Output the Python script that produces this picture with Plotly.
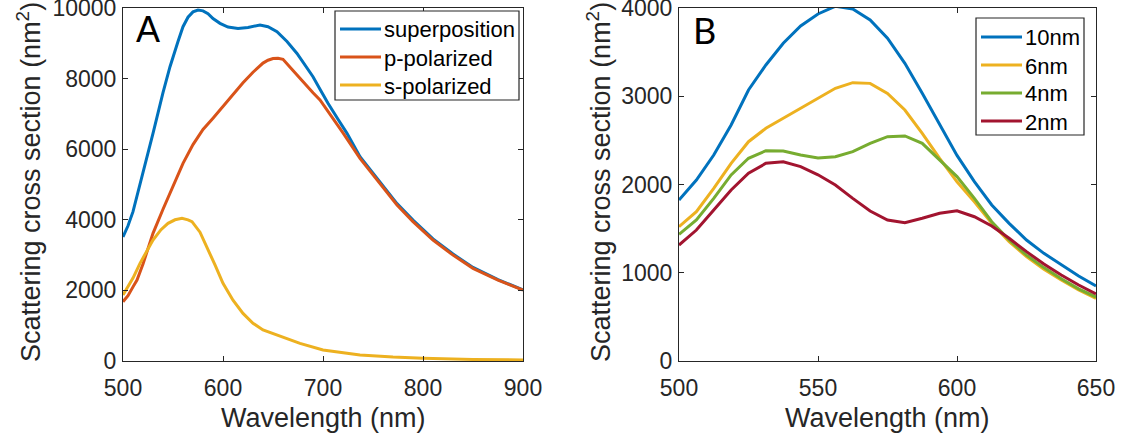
import plotly.graph_objects as go

# ---------------- Panel A: polarization components ----------------
wl_super = [500, 505, 510, 520, 530, 540, 547, 555, 560, 565, 570, 575, 580, 585, 590, 597,
            605, 615, 625, 637, 645, 654, 664, 674, 682, 690, 697, 705, 715, 724, 737, 754,
            774, 790, 810, 830, 850, 875, 900]
sigma_super = [3513, 3830, 4230, 5300, 6450, 7600, 8337, 9050, 9470, 9740, 9890, 9943, 9920,
               9840, 9700, 9566, 9460, 9420, 9450, 9518, 9470, 9330, 9050, 8713, 8380, 8054,
               7700, 7300, 6850, 6450, 5790, 5170, 4460, 3990, 3460, 3030, 2650, 2305, 2015]

wl_p = [500, 505, 510, 514, 520, 530, 540, 547, 550, 560, 570, 575, 580, 590, 594, 600, 610,
        615, 620, 630, 634, 640, 645, 650, 655, 660, 670, 680, 690, 697, 710, 720, 737, 754,
        774, 790, 810, 830, 850, 875, 900]
sigma_p = [1680, 1850, 2100, 2295, 2750, 3617, 4300, 4750, 4950, 5600, 6130, 6354, 6560, 6880,
           7017, 7220, 7560, 7720, 7880, 8180, 8290, 8440, 8520, 8570, 8575, 8545, 8230, 7900,
           7600, 7394, 6870, 6460, 5742, 5127, 4419, 3950, 3428, 3000, 2625, 2290, 2011]

wl_s = [500, 505, 510, 517, 524, 530, 538, 545, 552, 559, 565, 569, 577, 584, 592, 600, 610,
        620, 630, 640, 650, 660, 677, 700, 737, 770, 800, 850, 900]
sigma_s = [1870, 2110, 2350, 2767, 3120, 3428, 3720, 3900, 4000, 4042, 4000, 3946, 3650, 3238,
           2720, 2200, 1720, 1348, 1070, 878, 770, 670, 500, 312, 170, 110, 76, 45, 28]

# ---------------- Panel B: gap-size dependence ----------------
wl_gap = [500.0, 506.25, 512.5, 518.75, 525.0, 531.25, 537.5, 543.75, 550.0, 556.25, 562.5,
          568.75, 575.0, 581.25, 587.5, 593.75, 600.0, 606.25, 612.5, 618.75, 625.0, 631.25,
          637.5, 643.75, 650.0]
sigma_10nm = [1824, 2051, 2334, 2674, 3071, 3354, 3600, 3796, 3932, 4020, 3989, 3864, 3657,
              3373, 3033, 2674, 2330, 2032, 1768, 1560, 1371, 1220, 1088, 963, 850]
sigma_6nm = [1522, 1692, 1957, 2240, 2485, 2637, 2750, 2863, 2970, 3090, 3154, 3146, 3033,
             2844, 2580, 2297, 2030, 1805, 1560, 1352, 1182, 1039, 918, 805, 710]
sigma_4nm = [1435, 1598, 1843, 2108, 2297, 2383, 2380, 2334, 2300, 2315, 2372, 2466, 2542,
             2550, 2466, 2278, 2090, 1843, 1578, 1371, 1200, 1058, 931, 818, 725]
sigma_2nm = [1314, 1484, 1711, 1938, 2127, 2240, 2258, 2202, 2110, 1994, 1843, 1700, 1598,
             1567, 1617, 1674, 1703, 1635, 1530, 1390, 1239, 1099, 975, 861, 759]

ticks_a_x = [500, 600, 700, 800, 900]
ticks_a_y = [0, 2000, 4000, 6000, 8000, 10000]
ticks_b_x = [500, 550, 600, 650]
ticks_b_y = [0, 1000, 2000, 3000, 4000]

BLUE, ORANGE, YELLOW = "#0072BD", "#D95319", "#EDB120"
GREEN, DARKRED = "#77AC30", "#A2142F"
AX = "#262626"
FONT = "Liberation Sans, Arial, sans-serif"

series_a = [(wl_super, sigma_super, "superposition", BLUE),
            (wl_p, sigma_p, "p-polarized", ORANGE),
            (wl_s, sigma_s, "s-polarized", YELLOW)]
series_b = [(wl_gap, sigma_10nm, "10nm", BLUE), (wl_gap, sigma_6nm, "6nm", YELLOW),
            (wl_gap, sigma_4nm, "4nm", GREEN), (wl_gap, sigma_2nm, "2nm", DARKRED)]

fig = go.Figure()
for x, y, name, col in series_a:
    fig.add_trace(go.Scatter(x=x, y=y, name=name, mode="lines", showlegend=False,
                             line=dict(color=col, width=3), xaxis="x", yaxis="y"))
for x, y, name, col in series_b:
    fig.add_trace(go.Scatter(x=x, y=y, name=name, mode="lines", showlegend=False,
                             line=dict(color=col, width=3), xaxis="x2", yaxis="y2"))

W, H = 1121, 443


def px(v):
    return v / W


def py(v):
    return (H - v) / H


ax_common = dict(showgrid=False, zeroline=False, showline=True, linecolor=AX, linewidth=1,
                 mirror="ticks", ticks="inside", ticklen=5, tickcolor=AX, tickwidth=1,
                 automargin=False, ticklabeloverflow="allow",
                 tickfont=dict(family=FONT, size=23, color=AX))
xax = dict(ax_common, ticklabelstandoff=6)
yax = dict(ax_common, ticklabelstandoff=1)


def ticks(vals):
    return dict(tickmode="array", tickvals=vals, ticktext=[str(v) for v in vals])


ydom = [py(361), py(8)]
fig.update_layout(
    width=W, height=H, margin=dict(l=0, r=0, t=0, b=0, autoexpand=False),
    paper_bgcolor="white", plot_bgcolor="white", showlegend=False,
    font=dict(family=FONT, color=AX),
    xaxis=dict(domain=[px(123), px(523)], range=[500, 900], anchor="y", **ticks(ticks_a_x), **xax),
    yaxis=dict(domain=ydom, range=[0, 10000], anchor="x", **ticks(ticks_a_y), **yax),
    xaxis2=dict(domain=[px(679), px(1096)], range=[500, 650], anchor="y2", **ticks(ticks_b_x), **xax),
    yaxis2=dict(domain=ydom, range=[0, 4000], anchor="x2", **ticks(ticks_b_y), **yax),
)

# Boxed legends: frame, coloured line sample and label for each series
shapes = []
annotations = []


def add_legend(series, left, right, top, bottom, first_row, row_step):
    shapes.append(dict(type="rect", xref="paper", yref="paper", x0=px(left), x1=px(right),
                       y0=py(bottom), y1=py(top), line=dict(color=AX, width=1.2),
                       fillcolor="white", layer="above"))
    for i, (_, _, name, col) in enumerate(series):
        yy = first_row + i * row_step
        shapes.append(dict(type="line", xref="paper", yref="paper", x0=px(left + 5),
                           x1=px(left + 46), y0=py(yy), y1=py(yy),
                           line=dict(color=col, width=3), layer="above"))
        annotations.append(dict(text=name, x=px(left + 47), y=py(yy + 1), xref="paper",
                                yref="paper", showarrow=False, xanchor="left", yanchor="middle",
                                font=dict(family=FONT, size=22, color="black")))


add_legend(series_a, 335, 519, 11, 100, 29, 28)
add_legend(series_b, 976, 1084, 18, 135, 37, 28)

ytitle = "Scattering cross section (nm<sup>2</sup>)"
title_font = dict(family=FONT, size=27, color=AX)
annotations += [
    dict(text="Wavelength (nm)", x=px(323), y=py(418), xref="paper", yref="paper",
         showarrow=False, font=title_font, xanchor="center", yanchor="middle"),
    dict(text="Wavelength (nm)", x=px(887.5), y=py(418), xref="paper", yref="paper",
         showarrow=False, font=title_font, xanchor="center", yanchor="middle"),
    dict(text=ytitle, x=px(29), y=py(182), xref="paper", yref="paper", textangle=-90,
         showarrow=False, font=title_font, xanchor="center", yanchor="middle"),
    dict(text=ytitle, x=px(599), y=py(182), xref="paper", yref="paper", textangle=-90,
         showarrow=False, font=title_font, xanchor="center", yanchor="middle"),
    dict(text="A", x=px(134), y=py(30), xref="paper", yref="paper", showarrow=False,
         font=dict(family=FONT, size=36, color="black"), xanchor="left", yanchor="middle"),
    dict(text="B", x=px(691), y=py(30), xref="paper", yref="paper", showarrow=False,
         font=dict(family="Lato, sans-serif", size=36, color="black"), xanchor="left", yanchor="middle"),
]
fig.update_layout(shapes=shapes, annotations=annotations)

fig.write_html("out.html")
